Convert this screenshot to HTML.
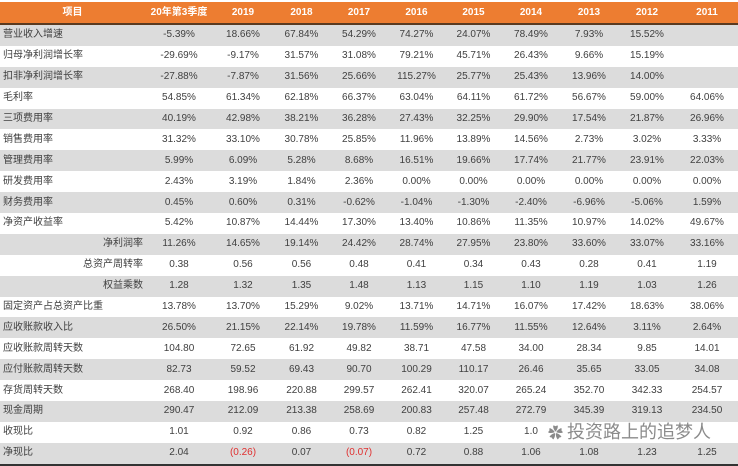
<!DOCTYPE html>
<html><head><meta charset="utf-8"><style>
body{margin:0;width:738px;height:465px;background:#fff;overflow:hidden;font-family:"Liberation Sans","Noto Sans CJK SC",sans-serif;}
#wrap{position:absolute;left:0;top:2px;width:738px;}
table{border-collapse:collapse;table-layout:fixed;width:738px;font-size:10px;color:#404040;}
td,th{padding:0;height:20.9px;line-height:12px;vertical-align:middle;text-align:center;white-space:nowrap;overflow:hidden;}
th{background:#ED7D31;color:#fff;font-weight:bold;height:21px;border-bottom:2px solid #5a3a20;font-size:10px;}
tr.g td{background:#DCDCDC;}
td.l,td.r{font-family:"Noto Sans CJK SC",sans-serif;font-size:10px;line-height:12px;padding-bottom:4px;box-sizing:border-box;}
td.l{text-align:left;padding-left:3px;}
td.r{text-align:right;padding-right:2px;}
.neg{color:#e03030;}
tbody tr:last-child td{border-bottom:2px solid #333;}
#wm{position:absolute;left:548px;top:420px;font-size:18px;line-height:22px;color:rgba(110,110,110,0.8);font-family:"Noto Sans CJK SC",sans-serif;}
</style></head><body>
<div id="wrap">
<table>
<colgroup><col style="width:145px"><col style="width:68px"><col style="width:60px"><col style="width:57px"><col style="width:58px"><col style="width:57px"><col style="width:57px"><col style="width:58px"><col style="width:58px"><col style="width:58px"><col style="width:62px"></colgroup>
<thead><tr><th>项目</th><th>20年第3季度</th><th>2019</th><th>2018</th><th>2017</th><th>2016</th><th>2015</th><th>2014</th><th>2013</th><th>2012</th><th>2011</th></tr></thead>
<tbody>
<tr class="g"><td class="l">营业收入增速</td><td>-5.39%</td><td>18.66%</td><td>67.84%</td><td>54.29%</td><td>74.27%</td><td>24.07%</td><td>78.49%</td><td>7.93%</td><td>15.52%</td><td></td></tr>
<tr><td class="l">归母净利润增长率</td><td>-29.69%</td><td>-9.17%</td><td>31.57%</td><td>31.08%</td><td>79.21%</td><td>45.71%</td><td>26.43%</td><td>9.66%</td><td>15.19%</td><td></td></tr>
<tr class="g"><td class="l">扣非净利润增长率</td><td>-27.88%</td><td>-7.87%</td><td>31.56%</td><td>25.66%</td><td>115.27%</td><td>25.77%</td><td>25.43%</td><td>13.96%</td><td>14.00%</td><td></td></tr>
<tr><td class="l">毛利率</td><td>54.85%</td><td>61.34%</td><td>62.18%</td><td>66.37%</td><td>63.04%</td><td>64.11%</td><td>61.72%</td><td>56.67%</td><td>59.00%</td><td>64.06%</td></tr>
<tr class="g"><td class="l">三项费用率</td><td>40.19%</td><td>42.98%</td><td>38.21%</td><td>36.28%</td><td>27.43%</td><td>32.25%</td><td>29.90%</td><td>17.54%</td><td>21.87%</td><td>26.96%</td></tr>
<tr><td class="l">销售费用率</td><td>31.32%</td><td>33.10%</td><td>30.78%</td><td>25.85%</td><td>11.96%</td><td>13.89%</td><td>14.56%</td><td>2.73%</td><td>3.02%</td><td>3.33%</td></tr>
<tr class="g"><td class="l">管理费用率</td><td>5.99%</td><td>6.09%</td><td>5.28%</td><td>8.68%</td><td>16.51%</td><td>19.66%</td><td>17.74%</td><td>21.77%</td><td>23.91%</td><td>22.03%</td></tr>
<tr><td class="l">研发费用率</td><td>2.43%</td><td>3.19%</td><td>1.84%</td><td>2.36%</td><td>0.00%</td><td>0.00%</td><td>0.00%</td><td>0.00%</td><td>0.00%</td><td>0.00%</td></tr>
<tr class="g"><td class="l">财务费用率</td><td>0.45%</td><td>0.60%</td><td>0.31%</td><td>-0.62%</td><td>-1.04%</td><td>-1.30%</td><td>-2.40%</td><td>-6.96%</td><td>-5.06%</td><td>1.59%</td></tr>
<tr><td class="l">净资产收益率</td><td>5.42%</td><td>10.87%</td><td>14.44%</td><td>17.30%</td><td>13.40%</td><td>10.86%</td><td>11.35%</td><td>10.97%</td><td>14.02%</td><td>49.67%</td></tr>
<tr class="g"><td class="r">净利润率</td><td>11.26%</td><td>14.65%</td><td>19.14%</td><td>24.42%</td><td>28.74%</td><td>27.95%</td><td>23.80%</td><td>33.60%</td><td>33.07%</td><td>33.16%</td></tr>
<tr><td class="r">总资产周转率</td><td>0.38</td><td>0.56</td><td>0.56</td><td>0.48</td><td>0.41</td><td>0.34</td><td>0.43</td><td>0.28</td><td>0.41</td><td>1.19</td></tr>
<tr class="g"><td class="r">权益乘数</td><td>1.28</td><td>1.32</td><td>1.35</td><td>1.48</td><td>1.13</td><td>1.15</td><td>1.10</td><td>1.19</td><td>1.03</td><td>1.26</td></tr>
<tr><td class="l">固定资产占总资产比重</td><td>13.78%</td><td>13.70%</td><td>15.29%</td><td>9.02%</td><td>13.71%</td><td>14.71%</td><td>16.07%</td><td>17.42%</td><td>18.63%</td><td>38.06%</td></tr>
<tr class="g"><td class="l">应收账款收入比</td><td>26.50%</td><td>21.15%</td><td>22.14%</td><td>19.78%</td><td>11.59%</td><td>16.77%</td><td>11.55%</td><td>12.64%</td><td>3.11%</td><td>2.64%</td></tr>
<tr><td class="l">应收账款周转天数</td><td>104.80</td><td>72.65</td><td>61.92</td><td>49.82</td><td>38.71</td><td>47.58</td><td>34.00</td><td>28.34</td><td>9.85</td><td>14.01</td></tr>
<tr class="g"><td class="l">应付账款周转天数</td><td>82.73</td><td>59.52</td><td>69.43</td><td>90.70</td><td>100.29</td><td>110.17</td><td>26.46</td><td>35.65</td><td>33.05</td><td>34.08</td></tr>
<tr><td class="l">存货周转天数</td><td>268.40</td><td>198.96</td><td>220.88</td><td>299.57</td><td>262.41</td><td>320.07</td><td>265.24</td><td>352.70</td><td>342.33</td><td>254.57</td></tr>
<tr class="g"><td class="l">现金周期</td><td>290.47</td><td>212.09</td><td>213.38</td><td>258.69</td><td>200.83</td><td>257.48</td><td>272.79</td><td>345.39</td><td>319.13</td><td>234.50</td></tr>
<tr><td class="l">收现比</td><td>1.01</td><td>0.92</td><td>0.86</td><td>0.73</td><td>0.82</td><td>1.25</td><td>1.0</td><td></td><td></td><td></td></tr>
<tr class="g"><td class="l">净现比</td><td>2.04</td><td class="neg">(0.26)</td><td>0.07</td><td class="neg">(0.07)</td><td>0.72</td><td>0.88</td><td>1.06</td><td>1.08</td><td>1.23</td><td>1.25</td></tr>
</tbody></table></div>
<div id="wm"><span style="font-size:15px">✿</span> 投资路上的追梦人</div>
</body></html>
